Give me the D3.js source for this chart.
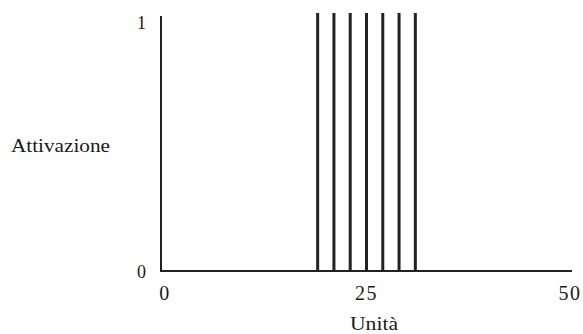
<!DOCTYPE html>
<html>
<head>
<meta charset="utf-8">
<script src="https://cdn.jsdelivr.net/npm/d3@7"></script>
<style>
  html, body { margin: 0; padding: 0; background: #fff; }
  svg { display: block; }
  text { font-family: "Liberation Serif", "DejaVu Serif", serif; fill: #1a1a1a; }
</style>
</head>
<body>
<svg id="chart" width="583" height="334"></svg>
<script>
// Active units (each fires with activation 1); all others are 0
const activeUnits = [19, 21, 23, 25, 27, 29, 31];
const activation = [1, 1, 1, 1, 1, 1, 1];
const xTicks = [0, 25, 50];
const yTicks = [0, 1];

const svg = d3.select("#chart");
const x = d3.scaleLinear().domain([0, 50]).range([163, 570]);
const y = d3.scaleLinear().domain([0, 1]).range([271, 14]);

// Baseline (x axis)
svg.append("line")
  .attr("x1", 161).attr("x2", 572)
  .attr("y1", y(0)).attr("y2", y(0))
  .attr("stroke", "#222").attr("stroke-width", 2);

// Vertical axis
svg.append("line")
  .attr("x1", 161).attr("x2", 161)
  .attr("y1", y(0) + 1).attr("y2", y(1) + 2)
  .attr("stroke", "#222").attr("stroke-width", 2);

// Activation spikes
svg.selectAll("line.spike")
  .data(activeUnits.map((u, i) => ({ u, v: activation[i] })))
  .join("line")
  .attr("class", "spike")
  .attr("x1", d => x(d.u)).attr("x2", d => x(d.u))
  .attr("y1", y(0)).attr("y2", d => y(d.v) - 1)
  .attr("stroke", "#222").attr("stroke-width", 3);

// Tick labels
svg.selectAll("text.xt")
  .data(xTicks)
  .join("text")
  .attr("class", "xt")
  .attr("x", d => x(d) + (d === 0 ? 2 : 0))
  .attr("y", 300)
  .attr("text-anchor", "middle")
  .attr("font-size", 20)
  .attr("letter-spacing", 1.5)
  .text(d => d);

svg.selectAll("text.yt")
  .data(yTicks)
  .join("text")
  .attr("class", "yt")
  .attr("x", 146)
  .attr("y", d => d === 1 ? 29 : 278)
  .attr("text-anchor", "end")
  .attr("font-size", 18)
  .text(d => d);

// Axis titles
svg.append("text")
  .attr("x", 11).attr("y", 152)
  .attr("font-size", 19)
  .attr("textLength", 99)
  .attr("lengthAdjust", "spacingAndGlyphs")
  .text("Attivazione");

svg.append("text")
  .attr("x", 350).attr("y", 330)
  .attr("font-size", 19)
  .attr("textLength", 48)
  .attr("lengthAdjust", "spacingAndGlyphs")
  .text("Unità");
</script>
</body>
</html>
